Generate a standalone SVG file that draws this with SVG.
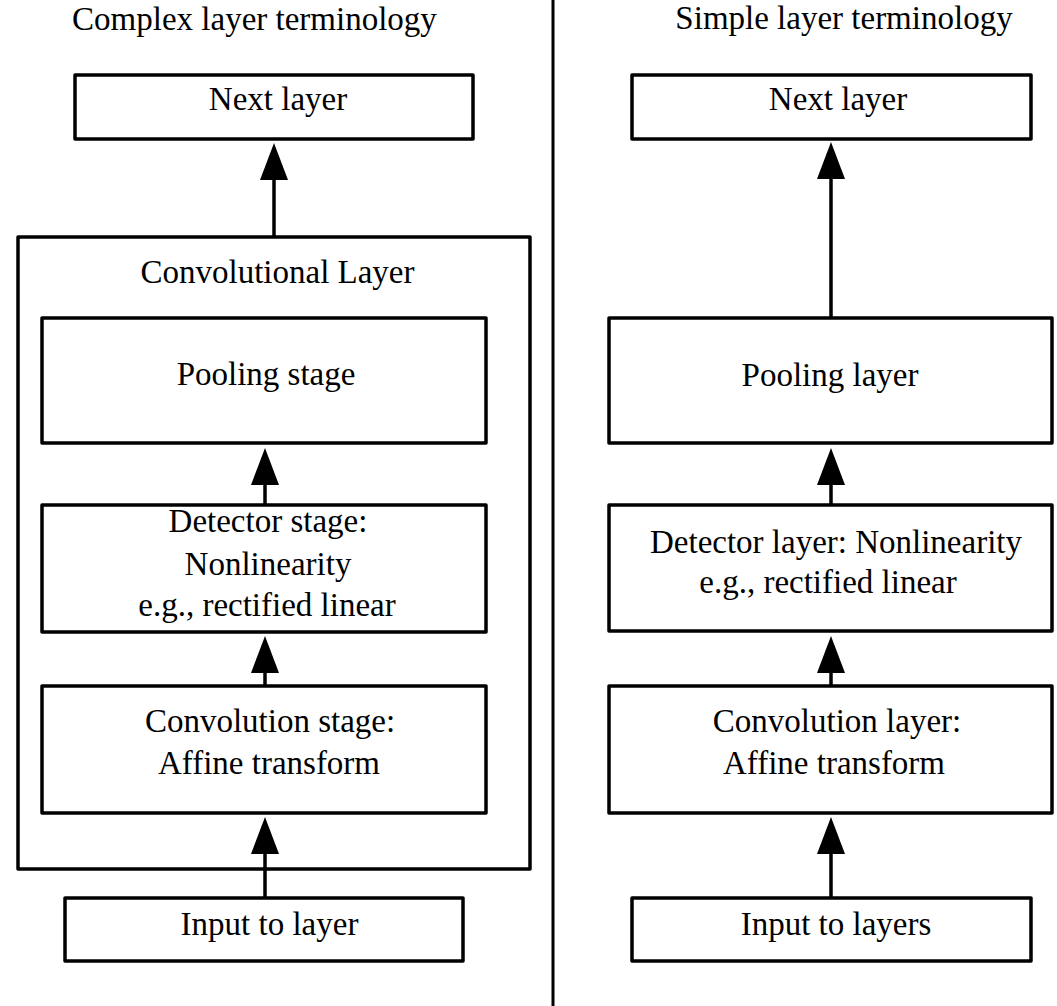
<svg xmlns="http://www.w3.org/2000/svg" width="1057" height="1006" viewBox="0 0 1057 1006">
  <style>
    .box { fill: #ffffff; stroke: #000000; stroke-width: 3.5; stroke-linejoin: round; }
    .lbl { font-family: "Liberation Serif", "Times New Roman", serif; font-size: 33px; fill: #000000; text-anchor: middle; }
    .edge { stroke: #000000; stroke-width: 3.5; fill: none; marker-end: url(#head); }
    .divider { stroke: #000000; stroke-width: 3; }
  </style>
  <defs>
    <marker id="head" markerUnits="userSpaceOnUse" markerWidth="38" markerHeight="30" refX="0" refY="14" orient="auto" viewBox="0 0 38 28" overflow="visible">
      <path d="M0,0 L37,14 L0,28 Z" fill="#000000"/>
    </marker>
  </defs>

  <rect x="0" y="0" width="1057" height="1006" fill="#ffffff"/>

  <!-- column divider -->
  <line class="divider" x1="553" y1="0" x2="553" y2="1006"/>

  <!-- column headings -->
  <text class="lbl" x="254.5" y="30">Complex layer terminology</text>
  <text class="lbl" x="844" y="29">Simple layer terminology</text>

  <!-- left column: complex terminology -->
  <g id="complex-next">
    <rect class="box" x="75" y="75" width="398" height="64"/>
    <text class="lbl" x="278" y="110">Next layer</text>
  </g>
  <g id="complex-conv-layer">
    <rect class="box" x="18" y="237" width="512" height="632"/>
    <text class="lbl" x="277.5" y="283">Convolutional Layer</text>
  </g>
  <g id="complex-pooling">
    <rect class="box" x="42" y="318" width="444" height="125"/>
    <text class="lbl" x="266" y="385">Pooling stage</text>
  </g>
  <g id="complex-detector">
    <rect class="box" x="42" y="505" width="444" height="127"/>
    <text class="lbl" x="268" y="532">Detector stage:</text>
    <text class="lbl" x="268" y="575">Nonlinearity</text>
    <text class="lbl" x="267" y="616">e.g., rectified linear</text>
  </g>
  <g id="complex-convolution">
    <rect class="box" x="42" y="686" width="444" height="127"/>
    <text class="lbl" x="270" y="732">Convolution stage:</text>
    <text class="lbl" x="269" y="774">Affine transform</text>
  </g>
  <g id="complex-input">
    <rect class="box" x="65" y="898" width="398" height="63"/>
    <text class="lbl" x="269.5" y="935">Input to layer</text>
  </g>

  <!-- right column: simple terminology -->
  <g id="simple-next">
    <rect class="box" x="632" y="75" width="399" height="64"/>
    <text class="lbl" x="838" y="110">Next layer</text>
  </g>
  <g id="simple-pooling">
    <rect class="box" x="609" y="318" width="443" height="125"/>
    <text class="lbl" x="830" y="386">Pooling layer</text>
  </g>
  <g id="simple-detector">
    <rect class="box" x="609" y="505" width="443" height="126"/>
    <text class="lbl" x="836" y="553">Detector layer: Nonlinearity</text>
    <text class="lbl" x="828" y="593">e.g., rectified linear</text>
  </g>
  <g id="simple-convolution">
    <rect class="box" x="609" y="686" width="443" height="127"/>
    <text class="lbl" x="837" y="732">Convolution layer:</text>
    <text class="lbl" x="834" y="774">Affine transform</text>
  </g>
  <g id="simple-input">
    <rect class="box" x="632" y="898" width="399" height="63"/>
    <text class="lbl" x="836" y="935">Input to layers</text>
  </g>

  <!-- connectors: each line stops at the arrowhead base -->
  <g id="connectors">
    <line class="edge" x1="274" y1="237" x2="274" y2="180"/>
    <line class="edge" x1="265" y1="505" x2="265" y2="485"/>
    <line class="edge" x1="265" y1="686" x2="265" y2="673"/>
    <line class="edge" x1="265" y1="898" x2="265" y2="854"/>

    <line class="edge" x1="831" y1="318" x2="831" y2="179"/>
    <line class="edge" x1="831" y1="505" x2="831" y2="485"/>
    <line class="edge" x1="831" y1="686" x2="831" y2="673"/>
    <line class="edge" x1="831" y1="898" x2="831" y2="854"/>
  </g>
</svg>
